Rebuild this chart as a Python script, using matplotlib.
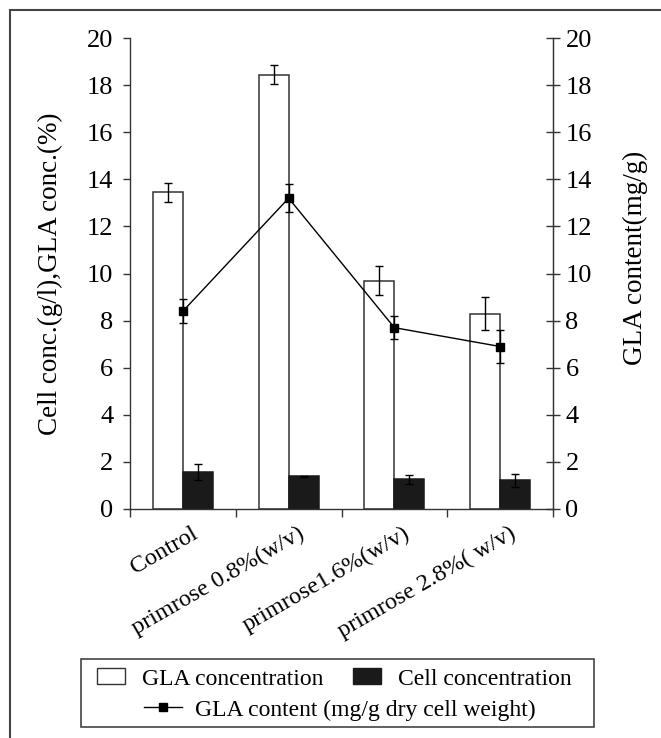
import numpy as np
import matplotlib
matplotlib.use("Agg")
import matplotlib.pyplot as plt
from matplotlib.patches import Rectangle, Patch
from matplotlib.lines import Line2D
import matplotlib.transforms as mtransforms

plt.rcParams['font.family'] = ['Liberation Serif', 'DejaVu Serif']

# === Data ===
categories = ["Control", "primrose 0.8%(w/v)", "primrose1.6%(w/v)", "primrose 2.8%( w/v)"]
gla_conc = [13.45, 18.45, 9.7, 8.3]
gla_conc_err = [0.4, 0.4, 0.6, 0.7]
cell_conc = [1.58, 1.40, 1.26, 1.22]
cell_conc_err = [0.33, 0.02, 0.2, 0.28]
gla_content = [8.4, 13.2, 7.7, 6.9]
gla_content_err = [0.5, 0.6, 0.5, 0.7]

edge = '#333333'
x = np.arange(len(categories))
w = 0.284

fig = plt.figure(figsize=(6.61, 7.38), dpi=100)
ax = fig.add_axes([0.1967, 0.3103, 0.6399, 0.6382])

ax.bar(x - w / 2, gla_conc, w, color='white', edgecolor=edge, linewidth=1.1,
       yerr=gla_conc_err, capsize=3, error_kw=dict(ecolor='black', elinewidth=1, capthick=1))
ax.bar(x + w / 2, cell_conc, w, color='#1a1a1a', edgecolor='#1a1a1a', linewidth=1.1,
       yerr=cell_conc_err, capsize=3, error_kw=dict(ecolor='black', elinewidth=1, capthick=1))

ax.set_xlim(-0.5, 3.5)
ax.set_ylim(0, 20)
ax.set_yticks(np.arange(0, 21, 2))
ax.tick_params(axis='y', direction='out', length=5, width=1, color=edge, labelsize=19, pad=7)
ax.set_xticks(x)
ax.set_xticks(np.arange(-0.5, 4, 1), minor=True)
ax.tick_params(axis='x', which='major', length=0, pad=10)
ax.tick_params(axis='x', which='minor', direction='out', length=6, width=1, color=edge)
ax.set_xticklabels(categories, rotation=30, ha='right', fontsize=17.5)
offset = mtransforms.ScaledTranslation(0.19, 0, fig.dpi_scale_trans)
for lab in ax.get_xticklabels():
    lab.set_transform(lab.get_transform() + offset)

for s in ['left', 'bottom', 'right']:
    ax.spines[s].set_color(edge)
    ax.spines[s].set_linewidth(1)
ax.spines['top'].set_visible(False)
ax.set_ylabel("Cell conc.(g/l),GLA conc.(%)", fontsize=19.5)
ax.yaxis.set_label_coords(-0.158, 0.5)

# === GLA content on right axis ===
ax2 = ax.twinx()
ax2.errorbar(x, gla_content, yerr=gla_content_err, color='black', lw=1, marker='s',
             markersize=5.5, capsize=3, elinewidth=1, capthick=1)
ax2.set_ylim(0, 20)
ax2.set_yticks(np.arange(0, 21, 2))
ax2.tick_params(axis='y', direction='inout', length=10, width=1, color=edge, labelsize=19, pad=4)
ax2.spines['top'].set_visible(False)
ax2.spines['left'].set_visible(False)
ax2.spines['bottom'].set_visible(False)
ax2.spines['right'].set_color(edge)
ax2.set_ylabel("GLA content(mg/g)", fontsize=19.5)
ax2.yaxis.set_label_coords(1.165, 0.533)

# === Legend ===
row1 = [Patch(facecolor='white', edgecolor=edge, linewidth=1),
        Patch(facecolor='#1a1a1a', edgecolor='#1a1a1a')]
fig.legend(row1, ["GLA concentration", "Cell concentration"], ncol=2, loc='center',
           bbox_to_anchor=(0.506, 0.080), frameon=False, fontsize=17, borderpad=0,
           handlelength=1.2, handleheight=0.68, handletextpad=0.72, columnspacing=1.23)
row2 = [Line2D([], [], color='black', lw=1, marker='s', markersize=5.5)]
fig.legend(row2, ["GLA content (mg/g dry cell weight)"], loc='center',
           bbox_to_anchor=(0.514, 0.038), frameon=False, fontsize=17, borderpad=0,
           handlelength=1.6, handletextpad=0.55)
fig.add_artist(Rectangle((0.1225, 0.0149), 0.776, 0.0921, transform=fig.transFigure,
                         fill=False, edgecolor='#444444', linewidth=1.2))

# outer frame
fig.add_artist(Rectangle((0.015, -0.2), 1.2, 1.2 - 0.0136, transform=fig.transFigure,
                         fill=False, edgecolor='#444444', linewidth=1.5))

fig.savefig("out.png", dpi=100)
